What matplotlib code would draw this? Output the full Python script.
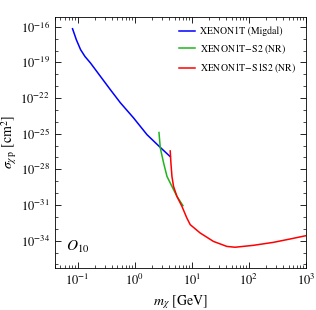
import numpy as np
import matplotlib
matplotlib.use('Agg')
import matplotlib.pyplot as plt
from matplotlib.ticker import LogLocator, NullFormatter

plt.rcParams['font.family'] = 'STIXGeneral'
plt.rcParams['mathtext.fontset'] = 'stix'

# values (log10 of mass in GeV, log10 of cross section in cm^2)
migdal_logm = [-1.087, -1.02, -0.946, -0.87, -0.773, -0.598, -0.424, -0.249,
               -0.022, 0.217, 0.432, 0.624]
migdal_logs = [-16.17, -17.1, -17.93, -18.5, -19.05, -20.18, -21.3, -22.4,
               -23.65, -25.08, -26.07, -26.93]

s2_logm = [0.427, 0.45, 0.508, 0.567, 0.654, 0.741, 0.846]
s2_logs = [-24.9, -26.2, -27.46, -28.59, -29.43, -30.27, -31.05]

s1s2_logm = [0.624, 0.636, 0.654, 0.682, 0.741, 0.828, 0.915, 0.974, 1.148,
             1.381, 1.615, 1.76, 2.08, 2.43, 2.72, 3.0]
s1s2_logs = [-26.45, -27.46, -28.59, -29.43, -30.27, -31.1, -32.09, -32.65,
             -33.35, -34.06, -34.48, -34.55, -34.39, -34.14, -33.86, -33.58]

labels = ['XENON1T (Migdal)', 'XENON1T$-$S2 (NR)', 'XENON1T$-$S1S2 (NR)']
colors = ['blue', '#1fb41f', 'red']

fig = plt.figure(figsize=(3.16, 3.10), dpi=100)
ax = fig.add_axes([0.173, 0.1365, 0.795, 0.8095])

series = [(migdal_logm, migdal_logs), (s2_logm, s2_logs), (s1s2_logm, s1s2_logs)]
for (lm, ls), lab, c in zip(series, labels, colors):
    ax.plot(10**np.array(lm), 10**np.array(ls), color=c, lw=1.1, label=lab)

ax.set_xscale('log')
ax.set_yscale('log')
ax.set_xlim(10**-1.4, 1e3)
ax.set_ylim(10**-36.27, 10**-15.16)

ax.yaxis.set_major_locator(LogLocator(base=10, subs=[1.0], numticks=40))
ax.set_yticks([10.0**e for e in range(-34, -15, 3)])
ax.set_yticks([10.0**e for e in range(-36, -15)], minor=True)
ax.yaxis.set_minor_formatter(NullFormatter())
ax.tick_params(which='both', direction='in', top=True, right=True, labelsize=9)
ax.tick_params(which='major', length=4, width=0.6)
ax.tick_params(which='minor', length=2, width=0.5)
for s in ax.spines.values():
    s.set_linewidth(0.6)

ax.set_xlabel(r'$m_\chi$ [GeV]', fontsize=10)
ax.set_ylabel(r'$\sigma_{\chi\,\mathrm{p}}$ [cm$^2$]', fontsize=10, labelpad=1)
ax.text(0.093, 0.082, r'$O_{10}$', transform=ax.transAxes, fontsize=11,
        ha='center', va='center')

ax.legend(loc='upper right', frameon=False, fontsize=7, handlelength=1.6,
          handletextpad=0.5, borderaxespad=0.6, labelspacing=0.6)

plt.savefig('out.png', dpi=100)
